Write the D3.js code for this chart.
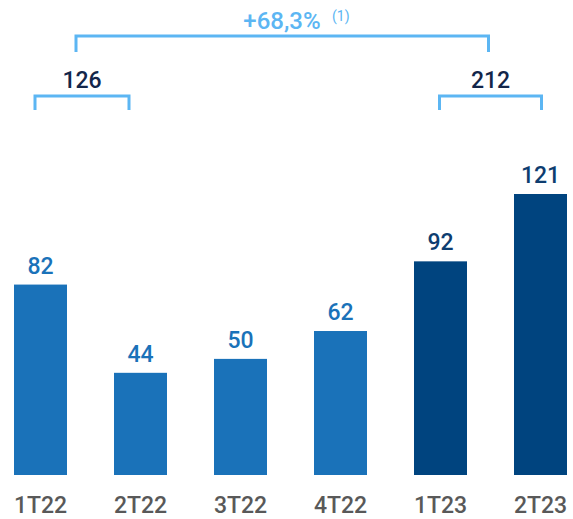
<!DOCTYPE html>
<html>
<head>
<meta charset="utf-8">
<script src="https://cdn.jsdelivr.net/npm/d3@7"></script>
<style>
  html, body { margin: 0; padding: 0; background: #fff; }
  svg { display: block; font-family: Roboto, "Open Sans", sans-serif; }
</style>
</head>
<body>
<svg id="chart" width="573" height="519"></svg>
<script>
// Quarterly results
const quarters = ["1T22", "2T22", "3T22", "4T22", "1T23", "2T23"];
const values = [82, 44, 50, 62, 92, 121];
const years = ["2022", "2022", "2022", "2022", "2023", "2023"];

// Half-year totals and growth between them
const halfTotals = [126, 212];
const halfGroups = [["1T22", "2T22"], ["1T23", "2T23"]];
const growthLabel = "+68,3%";
const growthNote = "(1)";

const barColor = { "2022": "#1a72b9", "2023": "#00447f" };
const labelColor = { "2022": "#1a72b9", "2023": "#0e3d70" };
const bracketColor = "#5cb6f3";

const svg = d3.select("#chart");

const x = d3.scaleBand()
  .domain(quarters)
  .range([14, 567])
  .paddingInner(0.47)
  .paddingOuter(0);

const y = d3.scaleLinear()
  .domain([0, 121])
  .range([475, 194]);

const data = quarters.map((q, i) => ({ q, v: values[i], yr: years[i] }));

// Bars
svg.append("g").selectAll("rect")
  .data(data)
  .join("rect")
  .attr("x", d => x(d.q))
  .attr("y", d => y(d.v))
  .attr("width", x.bandwidth())
  .attr("height", d => y(0) - y(d.v))
  .attr("fill", d => barColor[d.yr]);

// Value labels
svg.append("g").selectAll("text")
  .data(data)
  .join("text")
  .attr("x", d => x(d.q) + x.bandwidth() / 2)
  .attr("y", d => y(d.v) - 11)
  .attr("text-anchor", "middle")
  .attr("font-size", 23)
  .attr("font-weight", 500)
  .attr("fill", d => labelColor[d.yr])
  .text(d => d.v);

// Category axis
const xAxis = svg.append("g")
  .attr("transform", `translate(0, ${y(0)})`)
  .call(d3.axisBottom(x).tickSize(0).tickPadding(38));
xAxis.select(".domain").remove();
xAxis.selectAll("text")
  .attr("font-family", "Roboto, sans-serif")
  .attr("font-size", 23)
  .attr("font-weight", 500)
  .attr("fill", "#595959")
  .attr("dy", 0);

// Half-year brackets
const center = q => x(q) + x.bandwidth() / 2;
const bracketPath = (x0, x1, yTop, yBottom) =>
  `M${x0},${yBottom}V${yTop}H${x1}V${yBottom}`;

const halves = halfGroups.map((g, i) => {
  const x0 = i === 0 ? center(g[0]) - 5.5 : center(g[0]) - 1;
  const x1 = i === 0 ? center(g[1]) - 11.5 : center(g[1]) + 1;
  return { x0, x1, total: halfTotals[i] };
});

const bg = svg.append("g");
bg.selectAll("path")
  .data(halves)
  .join("path")
  .attr("d", d => bracketPath(d.x0, d.x1, 96, 110))
  .attr("fill", "none")
  .attr("stroke", bracketColor)
  .attr("stroke-width", 3);

bg.selectAll("text")
  .data(halves)
  .join("text")
  .attr("x", d => (d.x0 + d.x1) / 2)
  .attr("y", 88)
  .attr("text-anchor", "middle")
  .attr("font-size", 23)
  .attr("font-weight", 500)
  .attr("fill", "#13264a")
  .text(d => d.total);

// Growth bracket spanning both half years
const gx0 = (halves[0].x0 + halves[0].x1) / 2 - 6;
const gx1 = (halves[1].x0 + halves[1].x1) / 2 - 2;
svg.append("path")
  .attr("d", bracketPath(gx0, gx1, 36, 52))
  .attr("fill", "none")
  .attr("stroke", bracketColor)
  .attr("stroke-width", 3);

svg.append("text")
  .attr("x", 282)
  .attr("y", 28.5)
  .attr("text-anchor", "middle")
  .attr("font-size", 24)
  .attr("font-weight", 500)
  .attr("fill", bracketColor)
  .text(growthLabel);

svg.append("text")
  .attr("x", 332)
  .attr("y", 20.5)
  .attr("font-size", 14)
  .attr("fill", bracketColor)
  .text(growthNote);
</script>
</body>
</html>
